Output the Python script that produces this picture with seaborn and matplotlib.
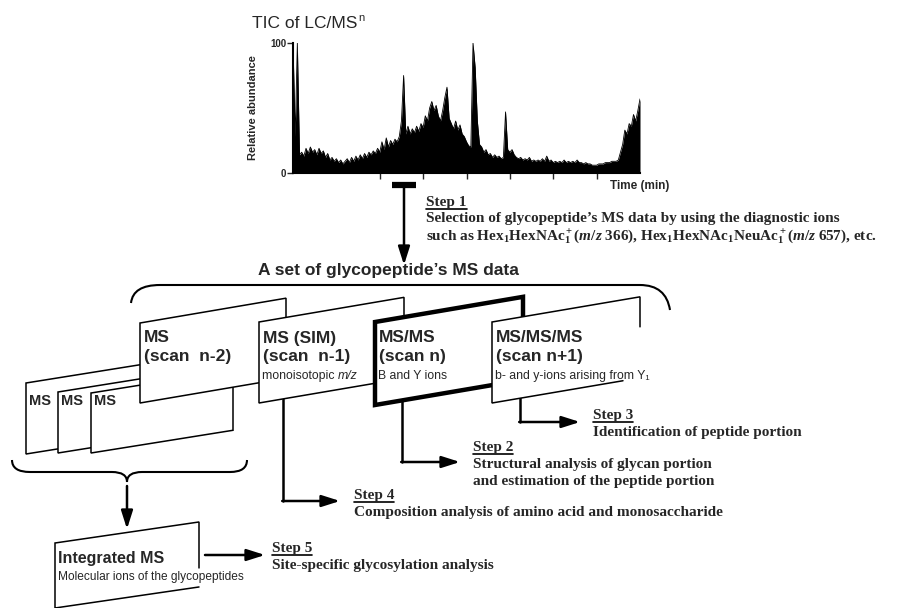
import numpy as np
import seaborn as sns
import matplotlib.pyplot as plt
from matplotlib.patches import Polygon, PathPatch, FancyArrowPatch
from matplotlib.path import Path

# TIC of LC/MS^n, relative abundance read every 0.5 time unit (0..80)
tic_abund = [
    100, 28, 100, 14, 16, 13, 19, 15, 20, 16, 18, 14, 19, 15, 17, 12,
    15, 10, 12, 9, 11, 8, 10, 7, 9, 11, 8, 12, 9, 13, 10, 14,
    11, 15, 12, 16, 14, 17, 15, 19, 16, 24, 18, 27, 20, 25, 22, 26,
    24, 28, 40, 75, 30, 36, 30, 34, 31, 36, 32, 38, 35, 44, 40, 50,
    55, 48, 52, 44, 40, 48, 58, 66, 42, 38, 34, 40, 33, 37, 30, 28,
    24, 21, 20, 100, 81, 40, 22, 20, 16, 18, 14, 15, 12, 14, 12, 13,
    11, 12, 47, 18, 16, 18, 14, 12, 11, 12, 10, 11, 10, 12, 9, 10,
    9, 10, 9, 11, 9, 13, 9, 10, 8, 9, 8, 9, 8, 10, 8, 9,
    8, 9, 8, 10, 8, 8, 7, 8, 7, 7, 6, 6, 6, 7, 7, 7,
    8, 8, 8, 9, 9, 9, 10, 16, 22, 33, 30, 38, 36, 45, 40, 48,
    57,
]
tic_time = np.arange(len(tic_abund)) * 0.5
time_ticks = [20, 30, 40, 50, 60, 70]

small_cards = ['MS', 'MS', 'MS']
scan_titles = ['MS', 'MS (SIM)', 'MS/MS', 'MS/MS/MS']
scan_names = ['(scan  n-2)', '(scan  n-1)', '(scan n)', '(scan n+1)']
scan_notes = ['', 'monoisotopic', 'B and Y ions', 'b- and y-ions arising from Y\u2081']

step1_text = ['Selection of glycopeptide\u2019s MS data by using the diagnostic ions',
              r'such as Hex$_1$HexNAc$_1^+$($\mathit{m/z}$ 366), '
              r'Hex$_1$HexNAc$_1$NeuAc$_1^+$($\mathit{m/z}$ 657), etc.']
step_texts = {
    2: ['Structural analysis of glycan portion',
        'and estimation of the peptide portion'],
    3: ['Identification of peptide portion'],
    4: ['Composition analysis of amino acid and monosaccharide'],
    5: ['Site-specific glycosylation analysis'],
}

SERIF = dict(family='Liberation Serif', fontweight='bold', fontsize=11)


def card(ax, x, top, w, h, slope, lw=1.1, z=2, right_len=None, bottom_cut=0):
    dy = w * slope
    pts = [(x, top), (x + w, top - dy), (x + w, top - dy + h), (x, top + h)]
    if right_len is None:
        ax.add_patch(Polygon(pts, closed=True, fc='white', ec='black', lw=lw,
                             zorder=z, joinstyle='miter'))
        return
    # sheet whose lower right corner is left open
    ax.add_patch(Polygon(pts, closed=True, fc='white', ec='none', zorder=z))
    edge = [(x + w, top - dy + right_len), (x + w, top - dy), (x, top), (x, top + h),
            (x + w - bottom_cut, top + h - (w - bottom_cut) * slope)]
    xs, ys = zip(*edge)
    ax.plot(xs, ys, color='black', lw=lw, zorder=z + 0.1, solid_joinstyle='miter')


def arrow(ax, p0, p1, lw=1.8):
    ax.add_patch(FancyArrowPatch(p0, p1, arrowstyle='-|>,head_length=11,head_width=3.5',
                                 mutation_scale=1, lw=lw, color='black',
                                 shrinkA=0, shrinkB=0, zorder=5))


def runs(ax, x, y, parts, **base):
    """Draw text pieces one after another on a shared baseline."""
    r = ax.figure.canvas.get_renderer()
    inv = ax.transData.inverted()
    for txt, extra in parts:
        kw = dict(base)
        kw.update(extra)
        t = ax.text(x, y, txt, va='baseline', ha='left', **kw)
        bb = t.get_window_extent(r)
        x = inv.transform((bb.x1, bb.y0))[0]
    return x


def step_label(ax, x, y, n):
    r = ax.figure.canvas.get_renderer()
    inv = ax.transData.inverted()
    t = ax.text(x, y, f'Step {n}', va='baseline', ha='left', **SERIF)
    bb = t.get_window_extent(r)
    x0 = inv.transform((bb.x0, bb.y0))[0]
    x1 = inv.transform((bb.x1, bb.y0))[0]
    ax.plot([x0, x1], [y + 2.5, y + 2.5], color='black', lw=1.2)


sns.set_style('white')
plt.rcParams['font.family'] = ['Liberation Sans', 'DejaVu Sans']
plt.rcParams['mathtext.fontset'] = 'custom'
plt.rcParams['mathtext.rm'] = 'Liberation Serif:bold'
plt.rcParams['mathtext.it'] = 'Liberation Serif:italic:bold'
plt.rcParams['mathtext.bf'] = 'Liberation Serif:bold'

fig = plt.figure(figsize=(9.24, 6.08), dpi=100)
ax = fig.add_axes([0, 0, 1, 1])
ax.set_xlim(0, 924)
ax.set_ylim(608, 0)
ax.axis('off')
ax.patch.set_visible(False)
fig.canvas.draw()

# ---- chromatogram ----
ax2 = fig.add_axes([293 / 924, 1 - 173 / 608, 347 / 924, 130 / 608])
sns.lineplot(x=tic_time, y=tic_abund, ax=ax2, color='black', lw=0.6)
ax2.fill_between(tic_time, tic_abund, color='black', lw=0)
ax2.set_xlim(0, 80)
ax2.set_ylim(0, 100)
ax2.set_xticks(time_ticks)
ax2.set_xticklabels([])
ax2.set_yticks([0, 100])
ax2.set_yticklabels(['0', '100'], fontsize=7, fontweight='bold')
ax2.tick_params(axis='both', direction='out', length=4, width=1, pad=1,
                bottom=True, left=True)
for s in ['top', 'right']:
    ax2.spines[s].set_visible(False)
for s in ['left', 'bottom']:
    ax2.spines[s].set_linewidth(1.5)
    ax2.spines[s].set_color('black')
ax2.set_xlabel('')
ax2.set_ylabel('Relative abundance', fontsize=8, fontweight='bold')
ax2.yaxis.set_label_coords(-0.1, 0.5)
ax2.patch.set_visible(False)

t = ax.text(252, 28, 'TIC of LC/MS', fontsize=12.5, va='baseline')
bb = t.get_window_extent(fig.canvas.get_renderer())
ax.text(ax.transData.inverted().transform((bb.x1, 0))[0] + 1, 21, 'n',
        fontsize=8, va='baseline')
ax.text(610, 186, 'Time (min)', fontsize=8.5, fontweight='bold', va='center')

# ---- step 1 ----
ax.plot([392, 416], [185, 185], color='black', lw=4.5, solid_capstyle='butt')
arrow(ax, (404, 185), (404, 265))
step_label(ax, 426, 206, 1)
ax.text(426, 222, step1_text[0], va='baseline', **SERIF)
ax.text(426, 240, step1_text[1], va='baseline', **SERIF)

ax.text(258, 271, 'A set of glycopeptide\u2019s MS data', fontsize=12.5,
        fontweight='bold', va='center')

# top brace
verts = [(131, 303), (133, 285), (160, 285), (640, 285), (666, 285), (670, 310)]
codes = [Path.MOVETO, Path.CURVE3, Path.CURVE3, Path.LINETO, Path.CURVE3, Path.CURVE3]
ax.add_patch(PathPatch(Path(verts, codes), fc='none', ec='black', lw=1.5))

# ---- stacked MS cards ----
for i, (x, top, h) in enumerate([(26, 383, 71), (58, 392, 61), (91, 393, 60)]):
    card(ax, x, top, 142, h, 0.16, z=2 + i)
    ax.text(x + 3, 401, small_cards[i], fontsize=10.5, fontweight='bold',
            va='center', zorder=2.5 + i)

scan_geo = [(140, 323, 146, 80), (259, 322, 145, 81), (375, 322, 148, 83), (492, 322, 148, 81)]
for i, (x, top, w, h) in enumerate(scan_geo):
    z = 6 + i
    if i == 3:
        card(ax, x, top, w, h, 0.17, z=z, right_len=30, bottom_cut=17)
    else:
        card(ax, x, top, w, h, 0.17, lw=3.2 if i == 2 else 1.1, z=z)
    ax.text(x + 4, 338, scan_titles[i], fontsize=12.5, fontweight='bold', va='center', zorder=z + 0.5)
    ax.text(x + 4, 357, scan_names[i], fontsize=12.5, fontweight='bold', va='center', zorder=z + 0.5)
    if i == 1:
        runs(ax, x + 3, 379, [(scan_notes[i] + ' ', {}), ('m/z', dict(style='italic'))],
             fontsize=8.8, zorder=z + 0.5)
    elif scan_notes[i]:
        ax.text(x + 3, 379, scan_notes[i], fontsize=8.8, va='baseline', zorder=z + 0.5)

# bottom brace
verts = [(12, 460), (12, 472), (30, 472), (112, 472), (127, 472), (127, 482),
         (127, 472), (142, 472), (230, 472), (247, 472), (247, 460)]
codes = [Path.MOVETO, Path.CURVE3, Path.CURVE3, Path.LINETO, Path.CURVE3, Path.CURVE3,
         Path.CURVE3, Path.CURVE3, Path.LINETO, Path.CURVE3, Path.CURVE3]
ax.add_patch(PathPatch(Path(verts, codes), fc='none', ec='black', lw=1.5))
arrow(ax, (127, 486), (127, 529))

card(ax, 55, 543, 144, 65, 0.146, z=3, right_len=46, bottom_cut=0)
ax.text(58, 559, 'Integrated MS', fontsize=11.5, fontweight='bold', va='center', zorder=4)
ax.text(58, 577, 'Molecular ions of the glycopeptides', fontsize=8.6, va='center', zorder=4)

# ---- connectors and steps ----
ax.plot([283, 283], [399, 501], color='black', lw=1.8)
arrow(ax, (282.2, 501), (340, 501))
ax.plot([402, 402], [400, 462], color='black', lw=1.8)
arrow(ax, (401.2, 462), (460, 462))
ax.plot([520, 520], [398, 422], color='black', lw=1.8)
arrow(ax, (519.2, 422), (580, 422))
arrow(ax, (205, 555), (265, 555))

for n, (x, y) in {2: (473, 451), 3: (593, 419), 4: (354, 499), 5: (272, 552)}.items():
    step_label(ax, x, y, n)
    for k, line in enumerate(step_texts[n]):
        ax.text(x, y + 17 * (k + 1), line, va='baseline', **SERIF)

fig.savefig('out.png', dpi=100)
